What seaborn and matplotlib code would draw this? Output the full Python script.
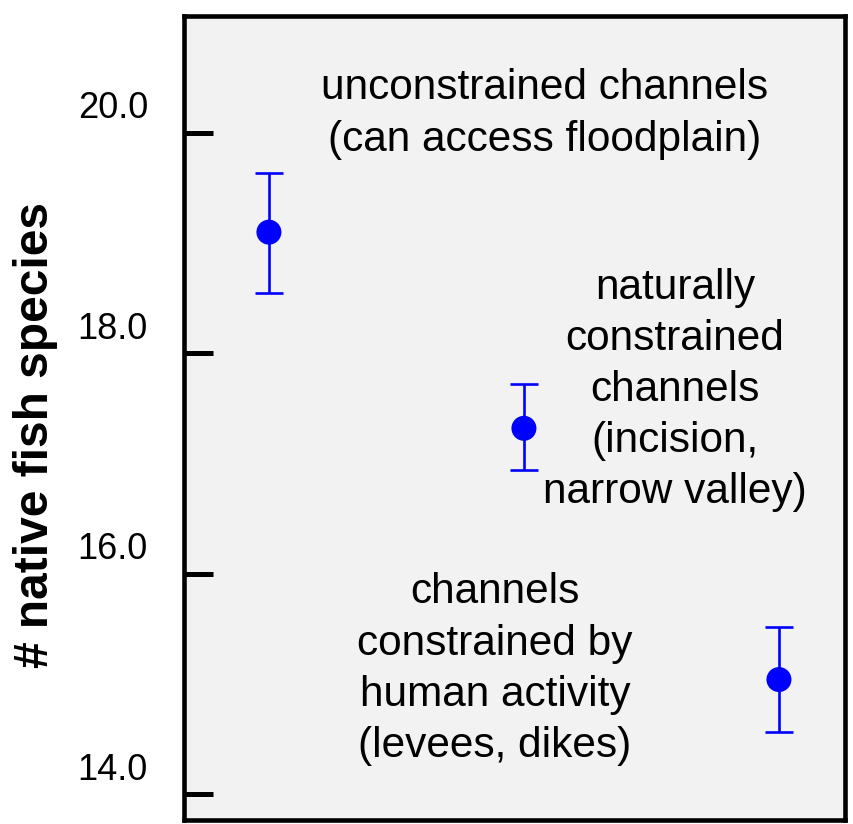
import matplotlib
matplotlib.use("Agg")
import matplotlib.pyplot as plt
import matplotlib.transforms as mtransforms
import pandas as pd
import seaborn as sns

# Mean native fish species richness by channel type, with error bar limits
categories = ["unconstrained", "naturally constrained", "human constrained"]
means = [19.10, 17.32, 15.04]
lower = [18.55, 16.94, 14.56]
upper = [19.64, 17.72, 15.52]
ytick_values = [14.0, 16.0, 18.0, 20.0]
ytick_labels = ["14.0", "16.0", "18.0", "20.0"]
annotations = [
    "unconstrained channels\n(can access floodplain)",
    "naturally\nconstrained\nchannels\n(incision,\nnarrow valley)",
    "channels\nconstrained by\nhuman activity\n(levees, dikes)",
]

sns.set_theme(style="white")
plt.rcParams["font.family"] = ["Liberation Sans", "DejaVu Sans"]
plt.rcParams["text.color"] = "black"
plt.rcParams["axes.labelcolor"] = "black"
plt.rcParams["ytick.color"] = "black"

df = pd.DataFrame({
    "pos": range(len(categories)),
    "category": categories,
    "mean": means,
    "lower": lower,
    "upper": upper,
})

fig = plt.figure(figsize=(8.54, 8.24), dpi=100)
ax = fig.add_axes([184 / 854, 4.5 / 824, (845 - 184) / 854, (819.5 - 15.5) / 824])
ax.set_facecolor("#f2f2f2")

blue = "#0000ff"
ax.errorbar(df["pos"], df["mean"],
            yerr=[df["mean"] - df["lower"], df["upper"] - df["mean"]],
            fmt="none", ecolor=blue, elinewidth=1.9, capsize=10, capthick=1.9, zorder=2)
sns.scatterplot(data=df, x="pos", y="mean", ax=ax, color=blue, s=18 ** 2,
                edgecolor="none", linewidth=0, zorder=3, legend=False)

ax.set_xlim(-0.333, 2.259)
ax.set_ylim(13.77, 21.066)

ax.set_xticks([])
ax.set_yticks(ytick_values)
ax.set_yticklabels(ytick_labels, fontsize=26, color="black")
ax.tick_params(axis="y", direction="in", length=21, width=3.6, color="black",
               pad=26, left=True, labelcolor="black")
# tick labels sit slightly above their tick marks
offset = mtransforms.ScaledTranslation(0, 0.28, fig.dpi_scale_trans)
for lbl in ax.get_yticklabels():
    lbl.set_transform(lbl.get_transform() + offset)

for spine in ax.spines.values():
    spine.set_visible(True)
    spine.set_color("black")
    spine.set_linewidth(3.3)

ax.set_xlabel("")
ax.set_ylabel("# native fish species", fontsize=34.5, fontweight="bold", color="black")
ax.yaxis.set_label_coords(-0.19, 0.478)

text_pos = [(1.082, 20.172), (1.592, 17.667), (0.886, 15.135)]
for (tx, ty), txt in zip(text_pos, annotations):
    ax.text(tx, ty, txt, ha="center", va="center", fontsize=30.5,
            linespacing=1.36, color="black")

fig.savefig("out.png", dpi=100)
